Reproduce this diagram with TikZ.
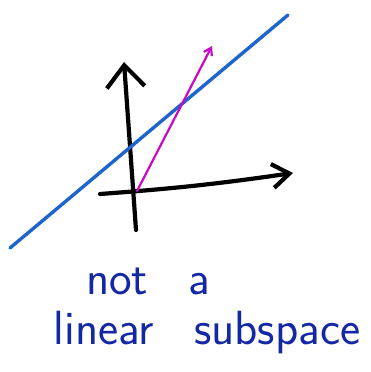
\documentclass[tikz,border=0pt]{standalone}
\usepackage{xcolor}
\usetikzlibrary{arrows.meta, positioning}
\definecolor{penblue}{RGB}{30,100,205}
\definecolor{inkblue}{RGB}{20,40,165}
\definecolor{penmagenta}{RGB}{200,10,200}
\newcommand{\wideword}{\spaceskip=40pt\relax}
\tikzset{
  axis/.style={line width=4.2pt, black},
  spanline/.style={line width=3.4pt, penblue},
  vecarrow/.style={line width=2.2pt, penmagenta},
  note/.style={inkblue, font=\sffamily\fontsize{48}{52}\selectfont\wideword, inner sep=0pt}
}

\begin{document}
\begin{tikzpicture}[x=1pt, y=-1pt, line cap=round, line join=round]
    \useasboundingbox (0,0) rectangle (371,372);

    % Axes
    \coordinate (ybot) at (136,230);
    \coordinate (ytop) at (124,62);
    \coordinate (xleft) at (100,194);
    \coordinate (xright) at (293,173);
    \draw[axis, -{Straight Barb[length=22pt,width=38pt]}] (ybot) -- (ytop);
    \draw[axis, -{Straight Barb[length=17pt,width=24pt]}] (xleft) to[bend right=2] (xright);

    % The line not through the origin
    \coordinate (lstart) at (10,248);
    \coordinate (lend) at (288,15);
    \draw[spanline] (lstart) -- (lend);

    % Vector from the origin to the line and beyond
    \coordinate (vstart) at (137,191);
    \coordinate (vend) at (212,46);
    \draw[vecarrow, -{Straight Barb[length=7pt,width=9pt]}] (vstart) -- (vend);

    % Label
    \node[note] (nota) at (148,281) {not a};
    \node[note] (linsub) at (207,333) {linear subspace};

\end{tikzpicture}
\end{document}
